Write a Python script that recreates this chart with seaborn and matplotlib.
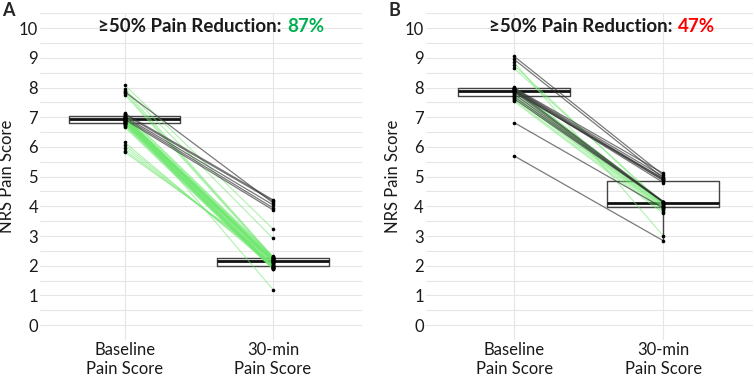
import pandas as pd
import matplotlib.pyplot as plt
import seaborn as sns

sns.set_theme(style="white")
plt.rcParams["font.family"] = ["Lato", "DejaVu Sans"]

# x categories
time_labels = ["Baseline\nPain Score", "30-min\nPain Score"]

# panel A: 46 patients (40 with >=50% reduction)
a_pre_gray = [7.85, 7.08, 7.02, 6.97, 6.92, 7.12]
a_post_gray = [4.12, 4.18, 4.05, 3.95, 3.88, 4.22]
a_pre_green = [8.08, 7.95, 7.90, 7.82, 7.76,
               6.15, 6.06, 5.97, 5.88, 5.82,
               6.66, 6.70, 6.73, 6.76, 6.78, 6.79, 6.80, 6.82, 6.84, 6.85,
               6.86, 6.87, 6.88, 6.89, 6.90, 6.91, 6.92, 6.93, 6.94, 6.95,
               6.96, 6.97, 6.98, 6.99, 7.00, 7.05, 7.01, 7.03, 7.10, 7.13]
a_post_green = [3.24, 2.92, 2.30, 2.28, 2.25,
                1.95, 2.04, 2.10, 2.20, 2.26,
                1.88, 1.90, 1.91, 1.92, 1.93, 1.94, 1.96, 1.97, 1.98, 1.99,
                2.00, 2.02, 2.06, 2.08, 2.12, 2.13, 2.14, 2.15, 2.16, 2.17,
                2.18, 2.19, 2.21, 2.22, 2.23, 1.20, 2.24, 2.27, 2.29, 2.32]
a_pct = "87%"

# panel B: 30 patients (14 with >=50% reduction)
b_pre_gray = [9.05, 8.95,
              7.99, 7.97, 7.95, 7.93, 7.91, 7.88, 7.84,
              7.62, 7.69, 7.78, 7.86, 7.92,
              6.82, 5.70]
b_post_gray = [5.05, 4.95,
               5.11, 5.00, 4.92, 4.88, 4.80, 4.87, 4.93,
               4.15, 4.16, 4.13, 4.14, 4.16,
               3.94, 2.84]
b_pre_green = [8.85, 8.75, 8.65,
               7.53, 7.58, 7.66, 7.71, 7.75, 7.81, 7.89, 7.94, 7.96, 7.98, 8.02]
b_post_green = [3.00, 4.02, 4.10,
                3.76, 3.82, 3.88, 3.92, 3.96, 3.98, 4.00, 4.04, 4.06, 4.08, 4.11]
b_pct = "47%"

green = "#6fe86f"
gray = "#333333"


def long_df(pre_gray, post_gray, pre_green, post_green):
    rows = []
    pid = 0
    for grp, pre, post in [("green", pre_green, post_green), ("gray", pre_gray, post_gray)]:
        for b, p in zip(pre, post):
            rows.append({"id": pid, "group": grp, "time": time_labels[0], "pos": 0, "score": b})
            rows.append({"id": pid, "group": grp, "time": time_labels[1], "pos": 1, "score": p})
            pid += 1
    return pd.DataFrame(rows)


def panel(ax, df, pct, pct_color, xlim):
    sns.boxplot(data=df, x="time", y="score", order=time_labels, ax=ax,
                fill=False, width=0.75, showfliers=False, showcaps=False,
                color="#444444", linewidth=1.0,
                medianprops={"color": "#111111", "linewidth": 2}, zorder=2)
    sns.lineplot(data=df[df.group == "green"], x="pos", y="score", units="id",
                 estimator=None, color=green, alpha=0.55, linewidth=0.8, ax=ax, zorder=3)
    sns.lineplot(data=df[df.group == "gray"], x="pos", y="score", units="id",
                 estimator=None, color=gray, alpha=0.65, linewidth=0.9, ax=ax, zorder=3)
    sns.stripplot(data=df, x="time", y="score", order=time_labels, jitter=False,
                  color="black", size=2.6, ax=ax, zorder=4)

    ax.set_xlim(*xlim)
    ax.set_ylim(-0.5, 10.5)
    ax.set_yticks(range(0, 11))
    ax.set_yticks([i + 0.5 for i in range(0, 11)], minor=True)
    ax.set_xticks([0, 1])
    ax.set_xticklabels(time_labels)
    ax.grid(True, which="both", axis="y", color="#e6e6e6", linewidth=0.8)
    ax.grid(True, which="major", axis="x", color="#e6e6e6", linewidth=0.8)
    ax.set_axisbelow(True)
    for s in ax.spines.values():
        s.set_visible(False)
    ax.tick_params(which="both", length=0, pad=1.5, labelsize=12, colors="#1a1a1a")
    ax.set_xlabel("")
    ax.set_ylabel("NRS Pain Score", fontsize=12, color="#1a1a1a")
    ax.yaxis.set_label_coords(-0.077, 0.5)

    ax.text(1.06, 9.88, "\u226550% Pain Reduction:", ha="right", va="baseline",
            fontsize=13.5, fontweight="bold", color="#1a1a1a")
    ax.annotate(pct, xy=(1.06, 9.88), xytext=(4, 0), textcoords="offset points",
                ha="left", va="baseline", fontsize=13.5, fontweight="bold", color=pct_color)


fig = plt.figure(figsize=(7.53, 3.76), dpi=100)
ax_a = fig.add_axes([0.0531, 0.0957, 0.4274, 0.869])
ax_b = fig.add_axes([0.5657, 0.0957, 0.4343, 0.869])

panel(ax_a, long_df(a_pre_gray, a_post_gray, a_pre_green, a_post_green), a_pct, "#00b050", (-0.574, 1.6))
panel(ax_b, long_df(b_pre_gray, b_post_gray, b_pre_green, b_post_green), b_pct, "#ff0000", (-0.59, 1.6))

fig.text(0.003, 0.995, "A", ha="left", va="top", fontsize=13, fontweight="bold")
fig.text(0.516, 0.995, "B", ha="left", va="top", fontsize=13, fontweight="bold")

fig.savefig("out.png", dpi=100)
